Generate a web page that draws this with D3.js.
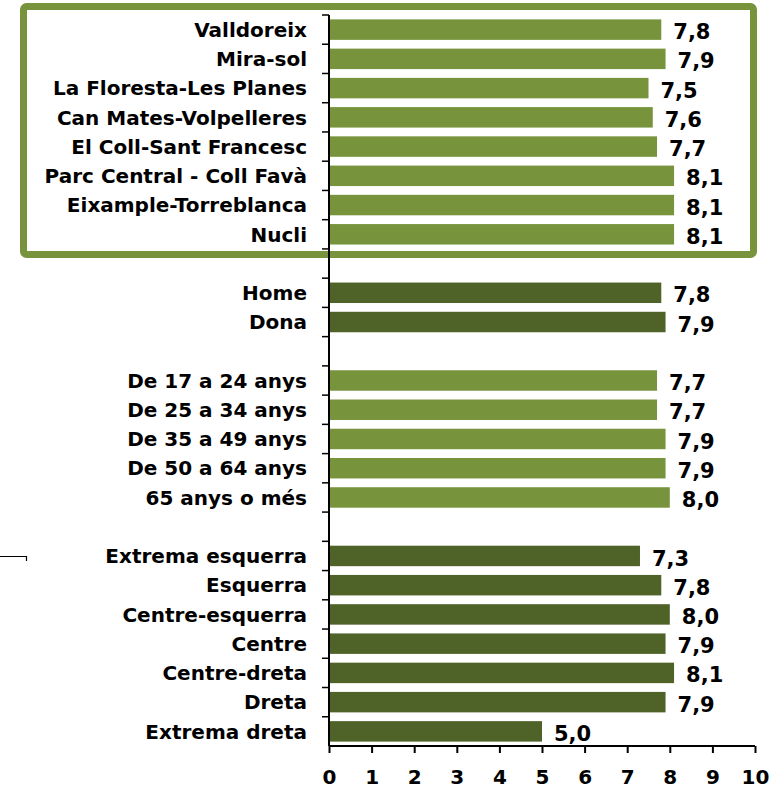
<!DOCTYPE html>
<html>
<head>
<meta charset="utf-8">
<script src="https://cdn.jsdelivr.net/npm/d3@7"></script>
<style>
  body { margin: 0; background: #fff; }
  svg { display: block; font-family: 'DejaVu Sans', Verdana, sans-serif; font-weight: bold; }
</style>
</head>
<body>
<svg width="775" height="788"></svg>
<script>
  // territoris
  const territoris = ['Valldoreix', 'Mira-sol', 'La Floresta-Les Planes', 'Can Mates-Volpelleres',
    'El Coll-Sant Francesc', 'Parc Central - Coll Favà', 'Eixample-Torreblanca', 'Nucli'];
  const territoriValues = [7.8, 7.9, 7.5, 7.6, 7.7, 8.1, 8.1, 8.1];

  const sexes = ['Home', 'Dona'];
  const sexeValues = [7.8, 7.9];

  const edats = ['De 17 a 24 anys', 'De 25 a 34 anys', 'De 35 a 49 anys', 'De 50 a 64 anys', '65 anys o més'];
  const edatValues = [7.7, 7.7, 7.9, 7.9, 8.0];

  const ideologies = ['Extrema esquerra', 'Esquerra', 'Centre-esquerra', 'Centre', 'Centre-dreta', 'Dreta', 'Extrema dreta'];
  const ideologiaValues = [7.3, 7.8, 8.0, 7.9, 8.1, 7.9, 5.0];

  const xTicks = [0, 1, 2, 3, 4, 5, 6, 7, 8, 9, 10];

  const lightGreen = '#77933c';
  const darkGreen = '#4f6228';

  // rows, with an empty band between groups
  const groups = [
    { names: territoris, values: territoriValues, color: lightGreen },
    { names: sexes, values: sexeValues, color: darkGreen },
    { names: edats, values: edatValues, color: lightGreen },
    { names: ideologies, values: ideologiaValues, color: darkGreen }
  ];
  const rows = [];
  groups.forEach((g, gi) => {
    if (gi > 0) rows.push({ key: 'gap' + gi, name: '', value: null });
    g.names.forEach((n, i) => rows.push({ key: n, name: n, value: g.values[i], color: g.color }));
  });

  const svg = d3.select('svg');
  const x0 = 329, x1 = 755, yTop = 15, yBottom = 746;

  const xScale = d3.scaleLinear().domain([0, 10]).range([x0, x1]);
  const yScale = d3.scaleBand()
    .domain(rows.map(d => d.key))
    .range([yTop, yBottom])
    .paddingInner(0.3)
    .paddingOuter(0.15);

  // frame around the territory rows
  svg.append('rect')
    .attr('x', 23.5).attr('y', 6.5)
    .attr('width', 730).attr('height', 248)
    .attr('rx', 3)
    .attr('fill', 'none')
    .attr('stroke', lightGreen)
    .attr('stroke-width', 7);

  // stray mark at the left
  svg.append('path')
    .attr('d', 'M0,556.5H26.5V561')
    .attr('fill', 'none')
    .attr('stroke', '#000')
    .attr('stroke-width', 1.2);

  const bars = rows.filter(d => d.value !== null);

  svg.selectAll('rect.bar').data(bars)
    .enter().append('rect')
      .attr('class', 'bar')
      .attr('x', xScale(0))
      .attr('y', d => yScale(d.key))
      .attr('width', d => xScale(d.value) - xScale(0))
      .attr('height', yScale.bandwidth())
      .attr('fill', d => d.color);

  // value labels
  svg.selectAll('text.val').data(bars)
    .enter().append('text')
      .attr('class', 'val')
      .attr('x', d => xScale(d.value) + 12)
      .attr('y', d => yScale(d.key) + yScale.bandwidth() / 2 + 2)
      .attr('dy', '0.36em')
      .attr('font-size', 21)
      .attr('fill', '#000')
      .text(d => d3.format('.1f')(d.value).replace('.', ','));

  // category labels
  svg.selectAll('text.cat').data(bars)
    .enter().append('text')
      .attr('class', 'cat')
      .attr('x', x0 - 22)
      .attr('y', d => yScale(d.key) + yScale.bandwidth() / 2)
      .attr('dy', '0.36em')
      .attr('text-anchor', 'end')
      .attr('font-size', 20)
      .attr('fill', '#000')
      .text(d => d.name);

  // y axis: line plus ticks at band boundaries
  const step = (yBottom - yTop) / rows.length;
  const yAxisG = svg.append('g');
  yAxisG.append('line')
    .attr('x1', x0).attr('x2', x0)
    .attr('y1', yTop).attr('y2', yBottom)
    .attr('stroke', '#000').attr('stroke-width', 2);
  yAxisG.selectAll('line.tick').data(d3.range(rows.length))
    .enter().append('line')
      .attr('class', 'tick')
      .attr('x1', x0 - 7).attr('x2', x0)
      .attr('y1', i => yTop + i * step).attr('y2', i => yTop + i * step)
      .attr('stroke', '#000').attr('stroke-width', 1.5);

  // x axis
  const xAxis = d3.axisBottom(xScale)
    .tickValues(xTicks)
    .tickSize(7)
    .tickPadding(17)
    .tickFormat(d3.format('d'));
  const xAxisG = svg.append('g')
    .attr('transform', `translate(0,${yBottom})`)
    .call(xAxis);
  xAxisG.select('.domain')
    .attr('stroke', '#000').attr('stroke-width', 2)
    .attr('d', `M${x0},0H${x1}`);
  xAxisG.selectAll('.tick line').attr('stroke', '#000').attr('stroke-width', 2);
  xAxisG.selectAll('.tick text')
    .attr('font-size', 20)
    .attr('font-family', "'DejaVu Sans', Verdana, sans-serif")
    .attr('font-weight', 'bold')
    .attr('fill', '#000');
</script>
</body>
</html>
